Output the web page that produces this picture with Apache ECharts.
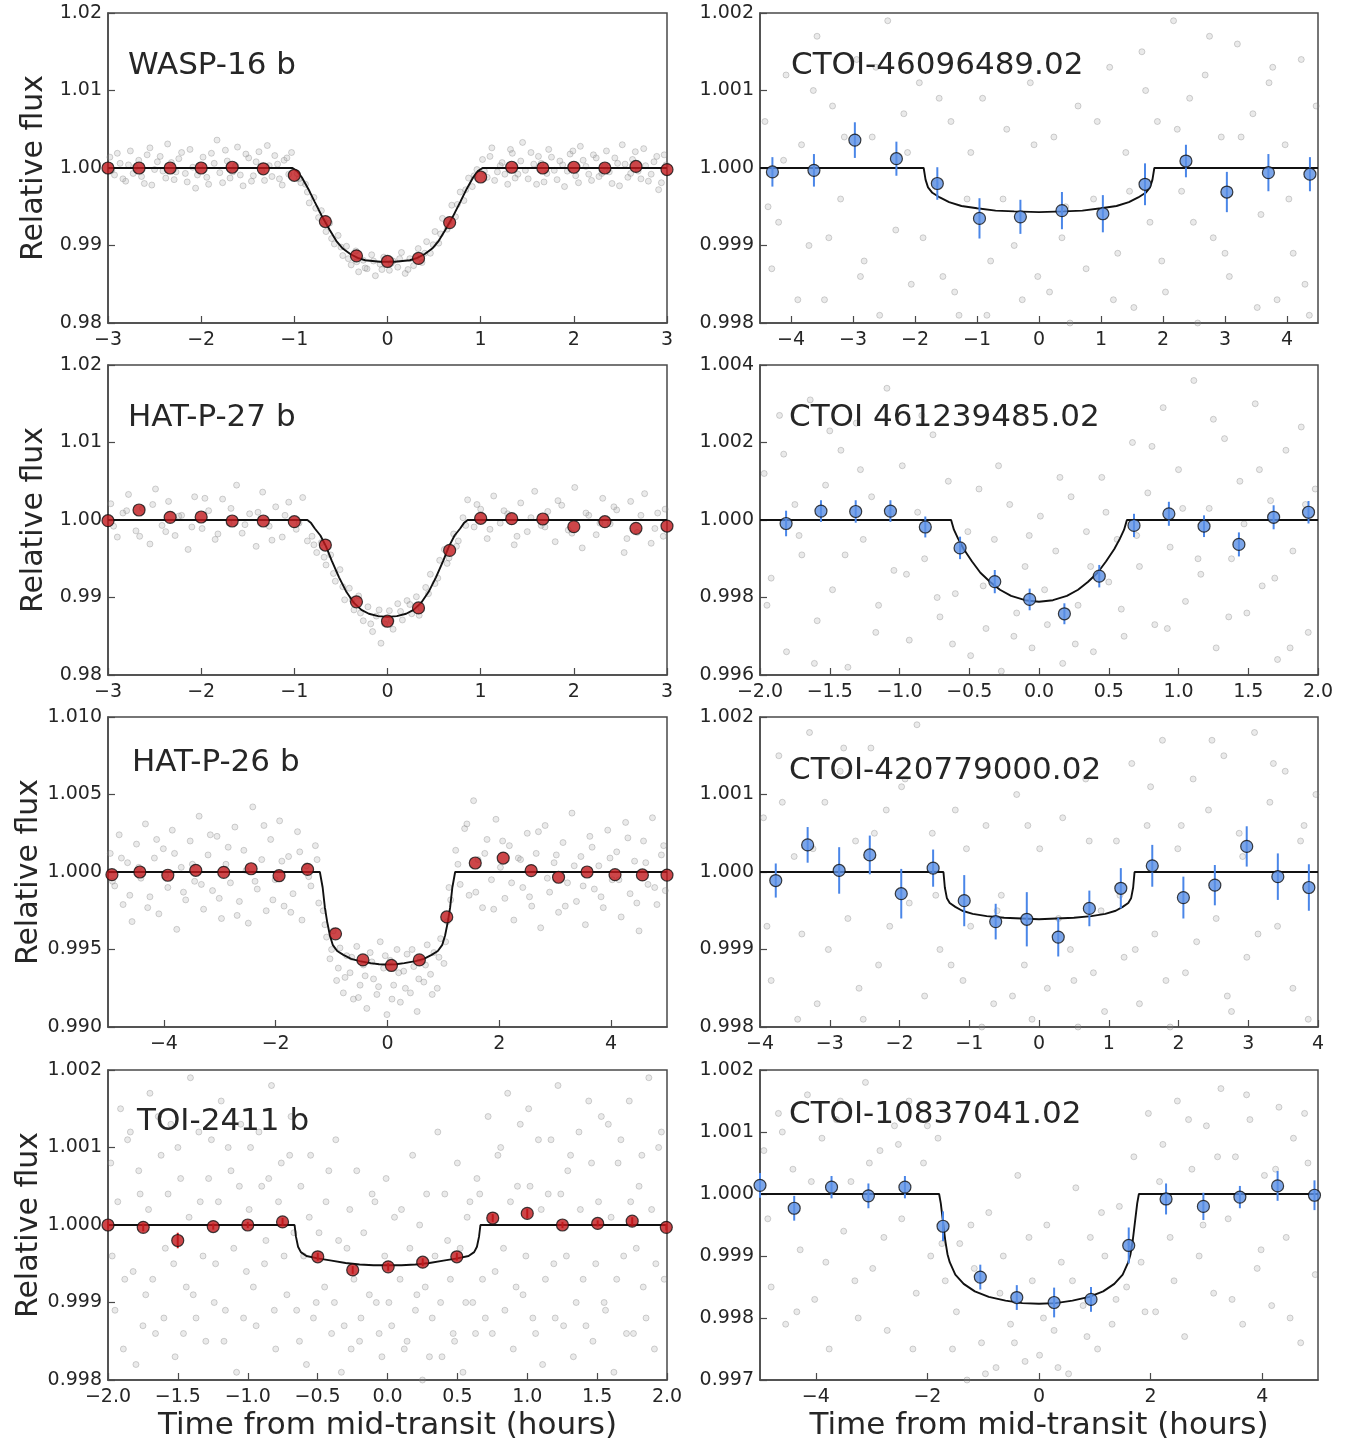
<!DOCTYPE html>
<html><head><meta charset="utf-8">
<script src="https://cdn.jsdelivr.net/npm/echarts@6/dist/echarts.min.js"></script>
<style>html,body{margin:0;padding:0;background:#fff;}#chart{width:1363px;height:1443px;}</style>
</head><body><div id="chart"></div>
<script>
// ================= DATA =================
// ---- WASP-16 b ----
const wasp16XTicks = ['−3','−2','−1','0','1','2','3'];
const wasp16YTicks = ['0.98','0.99','1.00','1.01','1.02'];
const wasp16BinX = [-3,-2.667,-2.333,-2,-1.667,-1.333,-1,-0.667,-0.333,0,0.333,0.667,1,1.333,1.667,2,2.333,2.667,3];
const wasp16BinY = [1.0000,1.0000,1.0000,1.0000,1.0001,0.9999,0.99906,0.99309,0.98867,0.98794,0.98833,0.99296,0.99884,1.0001,1.0000,1.0001,1.0000,1.0002,0.9998];
const wasp16ModelX = [-3,-1.02,-0.97,-0.92,-0.85,-0.78,-0.7,-0.62,-0.55,-0.48,-0.4,-0.32,-0.24,-0.16,-0.08,0,0.08,0.16,0.24,0.32,0.4,0.48,0.55,0.62,0.7,0.78,0.85,0.92,0.97,1.02,3];
const wasp16ModelY = [1,1,0.9996,0.9988,0.9973,0.9956,0.9937,0.9920,0.9906,0.9896,0.9889,0.9884,0.9881,0.9880,0.9879,0.9879,0.9879,0.9880,0.9881,0.9884,0.9889,0.9896,0.9906,0.9920,0.9937,0.9956,0.9973,0.9988,0.9996,1,1];
const wasp16Gray = [[-2.98,1.0014],[-2.93,0.9991],[-2.87,1.0006],[-2.81,0.9983],[-2.76,1.0022],[-2.71,1.0001],[-2.64,0.9989],[-2.58,1.0017],[-2.53,0.9978],[-2.47,1.0008],[-2.41,0.9996],[-2.36,1.0031],[-2.29,0.9985],[-2.24,1.0012],[-2.17,0.9993],[-2.12,1.0024],[-2.06,0.9974],[-2.01,1.0004],[-1.94,0.9988],[-1.89,1.0019],[-1.83,1.0036],[-1.77,0.9981],[-1.72,1.0009],[-1.66,0.9995],[-1.61,1.0027],[-1.55,0.9977],[-1.49,1.0013],[-1.44,0.9990],[-1.38,1.0021],[-1.32,0.9984],[-1.27,1.0003],[-1.21,1.0016],[-1.16,0.9986],[-1.11,1.0010],[-1.06,0.9992],[-1.03,1.0020],
[-0.97,0.9993],[-0.93,0.9981],[-0.88,0.9979],[-0.84,0.9955],[-0.79,0.9962],[-0.74,0.9936],[-0.71,0.9945],[-0.66,0.9918],[-0.62,0.9929],[-0.57,0.9902],[-0.53,0.9913],[-0.48,0.9887],[-0.44,0.9899],[-0.39,0.9875],[-0.34,0.9893],[-0.31,0.9866],[-0.26,0.9881],[-0.22,0.9870],[-0.17,0.9888],[-0.13,0.9861],[-0.08,0.9876],[-0.04,0.9885],[0.02,0.9868],[0.06,0.9880],[0.11,0.9872],[0.15,0.9891],[0.19,0.9864],[0.24,0.9883],[0.28,0.9874],[0.33,0.9896],[0.37,0.9878],[0.42,0.9905],[0.46,0.9890],[0.51,0.9918],[0.55,0.9903],[0.59,0.9935],[0.64,0.9921],[0.69,0.9952],[0.73,0.9937],[0.78,0.9969],[0.82,0.9958],[0.87,0.9987],[0.91,0.9976],[0.96,0.9998],
[1.02,1.0011],[1.07,0.9988],[1.12,1.0026],[1.18,0.9995],[1.23,1.0007],[1.29,0.9979],[1.34,1.0019],[1.4,0.9992],[1.45,1.0033],[1.51,0.9986],[1.57,1.0005],[1.62,1.0015],[1.68,0.9982],[1.73,1.0024],[1.79,0.9997],[1.85,1.0009],[1.9,0.9976],[1.96,1.0018],[2.02,0.9990],[2.07,1.0028],[2.13,1.0002],[2.19,0.9984],[2.24,1.0013],[2.3,0.9993],[2.35,1.0022],[2.41,0.9980],[2.47,1.0006],[2.52,1.0030],[2.58,0.9988],[2.63,1.0011],[2.69,0.9996],[2.75,1.0025],[2.8,0.9983],[2.86,1.0008],[2.91,0.9972],[2.97,1.0017]];
const wasp16GrayB = [[-2.96,0.9997],[-2.9,1.0019],[-2.84,0.9986],[-2.78,1.0004],[-2.73,0.9993],[-2.67,1.0010],[-2.61,0.9980],[-2.55,1.0026],[-2.5,0.9998],[-2.44,1.0015],[-2.38,0.9987],[-2.32,1.0007],[-2.27,0.9995],[-2.21,1.0020],[-2.15,0.9982],[-2.09,1.0001],[-2.04,0.9991],[-1.98,1.0014],[-1.92,0.9979],[-1.86,1.0006],[-1.8,0.9994],[-1.74,1.0023],[-1.69,0.9987],[-1.63,1.0003],[-1.58,0.9991],[-1.52,1.0018],[-1.46,0.9983],[-1.41,1.0008],[-1.35,0.9996],[-1.29,1.0029],[-1.24,0.9989],[-1.18,1.0005],[-1.13,0.9978],[-1.08,1.0013],
[-0.95,0.9986],[-0.86,0.9969],[-0.77,0.9948],[-0.68,0.9931],[-0.6,0.9909],[-0.5,0.9898],[-0.42,0.9883],[-0.33,0.9879],[-0.24,0.9871],[-0.15,0.9880],[-0.06,0.9869],[0.04,0.9877],[0.13,0.9883],[0.22,0.9869],[0.31,0.9885],[0.4,0.9890],[0.49,0.9901],[0.57,0.9915],[0.66,0.9931],[0.75,0.9953],[0.84,0.9972],[0.93,0.9990],
[1.04,0.9996],[1.1,1.0015],[1.15,0.9984],[1.21,1.0003],[1.26,0.9992],[1.32,1.0024],[1.37,0.9987],[1.43,1.0009],[1.48,0.9997],[1.54,1.0020],[1.6,0.9979],[1.65,1.0006],[1.71,0.9993],[1.76,1.0014],[1.82,0.9985],[1.88,1.0004],[1.93,0.9996],[1.99,1.0022],[2.05,0.9981],[2.1,1.0010],[2.16,0.9992],[2.21,1.0017],[2.27,0.9989],[2.33,1.0002],[2.38,0.9995],[2.44,1.0013],[2.49,0.9977],[2.55,1.0005],[2.61,0.9993],[2.66,1.0021],[2.72,0.9986],[2.77,1.0003],[2.83,0.9992],[2.89,1.0015],[2.94,0.9981],[2.99,1.0004]];

// ---- CTOI-46096489.02 ----
const ctoi460XTicks = ['−4','−3','−2','−1','0','1','2','3','4'];
const ctoi460YTicks = ['0.998','0.999','1.000','1.001','1.002'];
const ctoi460BinX = [-4.30,-3.63,-2.97,-2.30,-1.64,-0.96,-0.30,0.37,1.03,1.71,2.37,3.03,3.70,4.37];
const ctoi460BinY = [0.99995,0.99997,1.00036,1.00012,0.99980,0.99935,0.99937,0.99945,0.99941,0.99979,1.00009,0.99969,0.99994,0.99992];
const ctoi460BinErr = [0.00019,0.00021,0.00023,0.00022,0.00021,0.00026,0.00022,0.00024,0.00024,0.00027,0.00021,0.00026,0.00024,0.00022];
const ctoi460ModelX = [-4.5,-1.86,-1.83,-1.79,-1.72,-1.6,-1.45,-1.25,-1.0,-0.7,-0.4,0,0.4,0.7,1.0,1.25,1.45,1.6,1.72,1.79,1.83,1.86,4.5];
const ctoi460ModelY = [1,1,0.99985,0.99975,0.99968,0.99962,0.99956,0.99951,0.99948,0.99945,0.99944,0.99943,0.99944,0.99945,0.99948,0.99951,0.99956,0.99962,0.99968,0.99975,0.99985,1,1];
const ctoi460Gray = [[-4.42,1.0006],[-4.31,0.9987],[-4.2,0.9993],[-4.08,1.0012],[-3.95,0.9979],[-3.83,1.0003],[-3.71,0.9990],[-3.58,1.0017],[-3.46,0.9983],[-3.33,1.0008],[-3.2,0.9996],[-3.07,0.9975],[-2.94,1.0014],[-2.82,0.9988],[-2.69,1.0004],[-2.57,0.9981],[-2.44,1.0019],[-2.31,0.9992],[-2.18,1.0007],[-2.06,0.9985],[-1.93,1.0011],[-1.8,0.9978],[-1.67,0.9998],[-1.55,0.9986],[-1.42,1.0006],[-1.29,0.9981],[-1.16,0.9996],[-1.03,0.9973],[-0.91,1.0009],[-0.78,0.9988],[-0.65,0.9979],[-0.52,1.0005],[-0.4,0.9990],[-0.27,0.9983],[-0.14,1.0011],[-0.02,0.9986],[0.11,0.9974],[0.24,1.0004],[0.37,0.9991],[0.5,0.9980],[0.63,1.0008],[0.76,0.9987],[0.88,0.9996],[1.01,0.9977],[1.14,1.0013],[1.27,0.9989],[1.4,1.0002],[1.53,0.9982],[1.66,1.0015],[1.79,0.9993],[1.91,1.0006],[2.04,0.9984],[2.17,1.0019],[2.3,0.9997],[2.43,1.0009],[2.56,0.9980],[2.68,1.0012],[2.81,0.9991],[2.94,1.0004],[3.07,0.9986],[3.2,1.0016],[3.33,0.9978],[3.45,1.0007],[3.58,0.9994],[3.71,1.0011],[3.84,0.9983],[3.97,1.0003],[4.1,0.9989],[4.23,1.0014],[4.36,0.9981],[4.47,1.0008]];
const ctoi460GrayB = [[-4.37,0.9995],[-4.12,1.0001],[-3.89,0.9983],[-3.64,1.0010],[-3.39,0.9991],[-3.14,1.0004],[-2.88,0.9986],[-2.63,1.0013],[-2.38,0.9977],[-2.12,1.0002],[-1.87,0.9991],[-1.61,1.0009],[-1.36,0.9984],[-1.1,1.0002],[-0.84,0.9981],[-0.58,0.9996],[-0.33,0.9976],[-0.08,1.0003],[0.17,0.9984],[0.43,0.9995],[0.69,0.9978],[0.94,1.0006],[1.2,0.9983],[1.46,0.9997],[1.72,1.0010],[1.98,0.9988],[2.23,1.0005],[2.49,0.9993],[2.75,1.0017],[3.0,0.9989],[3.26,1.0004],[3.52,0.9982],[3.77,1.0013],[4.03,0.9996],[4.29,0.9985]];

// ---- HAT-P-27 b ----
const hatp27XTicks = ['−3','−2','−1','0','1','2','3'];
const hatp27YTicks = ['0.98','0.99','1.00','1.01','1.02'];
const hatp27BinX = [-3,-2.667,-2.333,-2,-1.667,-1.333,-1,-0.667,-0.333,0,0.333,0.667,1,1.333,1.667,2,2.333,2.667,3];
const hatp27BinY = [0.99991,1.00129,1.00034,1.00039,0.99987,0.99987,0.99978,0.99677,0.98944,0.98694,0.98866,0.99608,1.00022,1.00017,1.00013,0.99914,0.99978,0.99892,0.99922];
const hatp27ModelX = [-3,-0.86,-0.82,-0.78,-0.72,-0.66,-0.6,-0.52,-0.44,-0.36,-0.28,-0.2,-0.1,0,0.1,0.2,0.28,0.36,0.44,0.52,0.6,0.66,0.72,0.78,0.82,0.86,3];
const hatp27ModelY = [1,1,0.9996,0.9989,0.9980,0.9966,0.9948,0.9926,0.9907,0.9893,0.9884,0.9879,0.9876,0.9875,0.9876,0.9879,0.9884,0.9893,0.9907,0.9926,0.9948,0.9966,0.9980,0.9989,0.9996,1,1];
const hatp27Gray = [[-2.97,1.0021],[-2.9,0.9978],[-2.84,1.0009],[-2.78,1.0033],[-2.7,0.9986],[-2.63,1.0015],[-2.55,0.9969],[-2.49,1.0040],[-2.42,0.9993],[-2.35,1.0024],[-2.28,0.9980],[-2.21,1.0006],[-2.14,0.9962],[-2.07,1.0030],[-1.99,0.9989],[-1.92,1.0012],[-1.85,0.9975],[-1.77,1.0027],[-1.7,0.9996],[-1.62,1.0045],[-1.56,0.9983],[-1.48,1.0008],[-1.41,0.9966],[-1.34,1.0036],[-1.27,0.9992],[-1.2,1.0017],[-1.13,0.9978],[-1.06,1.0023],[-0.98,0.9988],[-0.91,1.0029],[-0.86,0.9973],
[-0.81,0.9979],[-0.76,0.9958],[-0.71,0.9971],[-0.66,0.9942],[-0.61,0.9955],[-0.56,0.9921],[-0.51,0.9936],[-0.46,0.9897],[-0.41,0.9912],[-0.36,0.9884],[-0.31,0.9902],[-0.26,0.9870],[-0.21,0.9888],[-0.16,0.9856],[-0.12,0.9876],[-0.07,0.9841],[-0.03,0.9866],[0.02,0.9883],[0.06,0.9859],[0.11,0.9892],[0.16,0.9871],[0.21,0.9896],[0.26,0.9879],[0.31,0.9901],[0.36,0.9886],[0.41,0.9913],[0.46,0.9930],[0.51,0.9918],[0.56,0.9948],[0.61,0.9962],[0.66,0.9951],[0.71,0.9982],[0.76,0.9973],[0.81,1.0003],[0.86,1.0026],
[0.93,0.9991],[1.0,1.0014],[1.07,0.9976],[1.14,1.0031],[1.21,0.9996],[1.29,1.0008],[1.36,0.9968],[1.43,1.0022],[1.5,0.9985],[1.58,1.0037],[1.65,0.9993],[1.72,1.0011],[1.8,0.9972],[1.87,1.0019],[1.94,0.9987],[2.01,1.0042],[2.09,0.9964],[2.16,1.0006],[2.24,0.9981],[2.31,1.0028],[2.39,0.9995],[2.46,1.0013],[2.54,0.9958],[2.61,1.0024],[2.68,0.9984],[2.76,1.0034],[2.83,0.9970],[2.9,1.0009],[2.96,0.9979]];
const hatp27GrayB = [[-2.94,0.9992],[-2.8,1.0012],[-2.66,0.9979],[-2.52,1.0020],[-2.38,0.9985],[-2.24,1.0005],[-2.1,0.9991],[-1.96,1.0028],[-1.82,0.9982],[-1.68,1.0015],[-1.53,0.9994],[-1.39,1.0010],[-1.24,0.9974],[-1.1,1.0006],[-0.95,0.9996],
[-0.79,0.9968],[-0.68,0.9952],[-0.58,0.9931],[-0.48,0.9914],[-0.38,0.9897],[-0.29,0.9880],[-0.18,0.9866],[-0.09,0.9884],[0.04,0.9870],[0.14,0.9882],[0.24,0.9891],[0.34,0.9877],[0.44,0.9905],[0.54,0.9925],[0.64,0.9944],[0.74,0.9966],[0.84,0.9993],
[0.96,1.0020],[1.1,0.9988],[1.25,1.0012],[1.39,0.9979],[1.54,1.0003],[1.69,0.9991],[1.83,1.0025],[1.98,0.9983],[2.13,1.0009],[2.28,0.9996],[2.43,1.0017],[2.57,0.9976],[2.72,1.0006],[2.87,0.9989],[2.98,1.0014]];

// ---- CTOI 461239485.02 ----
const ctoi461XTicks = ['−2.0','−1.5','−1.0','−0.5','0.0','0.5','1.0','1.5','2.0'];
const ctoi461YTicks = ['0.996','0.998','1.000','1.002','1.004'];
const ctoi461BinX = [-1.813,-1.563,-1.314,-1.065,-0.815,-0.566,-0.317,-0.067,0.182,0.432,0.681,0.931,1.183,1.433,1.682,1.932];
const ctoi461BinY = [0.99991,1.00023,1.00022,1.00023,0.99982,0.99928,0.99841,0.99795,0.99758,0.99855,0.99986,1.00016,0.99984,0.99937,1.00007,1.00020];
const ctoi461BinErr = [0.00033,0.00028,0.00029,0.00028,0.00027,0.00029,0.00030,0.00028,0.00027,0.00029,0.00030,0.00031,0.00028,0.00031,0.00031,0.00029];
const ctoi461ModelX = [-2,-0.63,-0.61,-0.58,-0.54,-0.48,-0.42,-0.35,-0.28,-0.2,-0.1,0,0.1,0.2,0.28,0.35,0.42,0.48,0.54,0.58,0.61,0.63,2];
const ctoi461ModelY = [1,1,0.99975,0.99952,0.99925,0.99893,0.99864,0.99840,0.99820,0.99804,0.99793,0.99789,0.99793,0.99804,0.99820,0.99840,0.99864,0.99893,0.99925,0.99952,0.99975,1,1];
const ctoi461Gray = [[-1.97,1.0012],[-1.92,0.9985],[-1.86,1.0027],[-1.81,0.9966],[-1.75,1.0004],[-1.7,0.9991],[-1.64,1.0031],[-1.59,0.9974],[-1.53,1.0009],[-1.48,0.9982],[-1.42,1.0018],[-1.37,0.9962],[-1.31,1.0025],[-1.26,0.9995],[-1.2,1.0006],[-1.15,0.9978],[-1.09,1.0034],[-1.04,0.9987],[-0.98,1.0014],[-0.93,0.9969],[-0.87,1.0002],[-0.82,0.9990],[-0.76,1.0022],[-0.71,0.9975],[-0.65,1.0010],[-0.6,0.9981],[-0.54,0.9993],[-0.49,0.9965],[-0.43,1.0008],[-0.38,0.9972],[-0.32,0.9995],[-0.27,0.9961],[-0.21,1.0004],[-0.16,0.9976],[-0.1,0.9988],[-0.05,0.9967],[0.01,1.0001],[0.06,0.9973],[0.12,0.9992],[0.17,0.9963],[0.23,1.0006],[0.28,0.9978],[0.34,0.9997],[0.39,0.9966],[0.45,1.0011],[0.5,0.9984],[0.56,0.9995],[0.61,0.9970],[0.67,1.0020],[0.72,0.9988],[0.78,1.0007],[0.83,0.9973],[0.89,1.0029],[0.94,0.9993],[1.0,1.0013],[1.05,0.9979],[1.11,1.0036],[1.16,0.9986],[1.22,1.0003],[1.27,0.9967],[1.33,1.0021],[1.38,0.9990],[1.44,1.0010],[1.49,0.9976],[1.55,1.0030],[1.6,0.9983],[1.66,1.0005],[1.71,0.9964],[1.77,1.0018],[1.82,0.9992],[1.88,1.0024],[1.93,0.9971],[1.98,1.0008]];
const ctoi461GrayB = [[-1.95,0.9978],[-1.83,1.0017],[-1.72,0.9996],[-1.61,0.9963],[-1.5,1.0023],[-1.39,0.9991],[-1.28,1.0013],[-1.17,0.9971],[-1.06,1.0002],[-0.95,0.9986],[-0.84,1.0027],[-0.73,0.9980],[-0.62,0.9968],[-0.51,0.9997],[-0.4,0.9983],[-0.29,1.0014],[-0.18,0.9970],[-0.07,0.9996],[0.04,0.9982],[0.15,1.0011],[0.26,0.9968],[0.37,0.9988],[0.48,1.0002],[0.59,0.9977],[0.7,0.9996],[0.81,1.0019],[0.92,0.9972],[1.03,1.0003],[1.14,0.9990],[1.25,1.0026],[1.36,0.9975],[1.47,0.9999],[1.58,1.0013],[1.69,0.9985],[1.8,0.9967],[1.91,1.0004]];

// ---- HAT-P-26 b ----
const hatp26XTicks = ['−4','−2','0','2','4'];
const hatp26YTicks = ['0.990','0.995','1.000','1.005','1.010'];
const hatp26BinX = [-4.93,-4.43,-3.93,-3.43,-2.93,-2.44,-1.94,-1.43,-0.93,-0.44,0.07,0.57,1.06,1.57,2.07,2.57,3.06,3.57,4.07,4.56,5.0];
const hatp26BinY = [0.99983,1.0000,0.99979,1.00011,0.99998,1.00021,0.99976,1.00017,0.99601,0.99433,0.99397,0.99433,0.99710,1.00058,1.00090,1.00009,0.99966,1.00000,0.99983,0.99981,0.99980];
const hatp26ModelX = [-5,-1.21,-1.16,-1.12,-1.08,-1.03,-0.98,-0.9,-0.79,-0.65,-0.5,-0.3,-0.15,0,0.15,0.3,0.5,0.65,0.79,0.9,0.98,1.03,1.08,1.12,1.16,1.21,5];
const hatp26ModelY = [1,1,0.9990,0.9977,0.9968,0.9959,0.9953,0.9949,0.99465,0.9944,0.99425,0.99412,0.99405,0.99403,0.99405,0.99412,0.99425,0.9944,0.99465,0.9949,0.9953,0.9959,0.9968,0.9977,0.9990,1,1];
const hatp26Gray = [[-4.96,1.0012],[-4.88,0.9991],[-4.8,1.0024],[-4.73,0.9979],[-4.65,1.0006],[-4.57,0.9968],[-4.49,1.0018],[-4.41,0.9996],[-4.33,1.0031],[-4.25,0.9984],[-4.17,1.0009],[-4.09,0.9973],[-4.01,1.0015],[-3.93,0.9990],[-3.85,1.0027],[-3.77,0.9963],[-3.69,1.0003],[-3.61,0.9982],[-3.53,1.0020],[-3.45,0.9994],[-3.37,1.0036],[-3.29,0.9976],[-3.21,1.0011],[-3.13,0.9988],[-3.05,1.0023],[-2.97,0.9970],[-2.89,1.0005],[-2.81,0.9993],[-2.73,1.0029],[-2.65,0.9981],[-2.57,1.0014],[-2.49,0.9967],[-2.41,1.0042],[-2.33,0.9989],[-2.25,1.0008],[-2.17,0.9975],[-2.09,1.0021],[-2.01,0.9995],[-1.93,1.0033],[-1.85,0.9978],[-1.77,1.0010],[-1.69,0.9986],[-1.61,1.0026],[-1.53,0.9969],[-1.45,1.0004],[-1.37,0.9991],[-1.29,1.0017],[-1.23,0.9980],
[-1.15,0.9975],[-1.09,0.9958],[-1.03,0.9944],[-0.97,0.9962],[-0.91,0.9930],[-0.85,0.9951],[-0.79,0.9922],[-0.73,0.9946],[-0.67,0.9935],[-0.61,0.9918],[-0.55,0.9952],[-0.49,0.9927],[-0.43,0.9940],[-0.37,0.9912],[-0.31,0.9948],[-0.25,0.9931],[-0.19,0.9921],[-0.13,0.9955],[-0.07,0.9938],[-0.01,0.9908],[0.05,0.9943],[0.11,0.9927],[0.17,0.9950],[0.23,0.9916],[0.29,0.9936],[0.35,0.9947],[0.41,0.9922],[0.47,0.9939],[0.53,0.9910],[0.59,0.9944],[0.65,0.9929],[0.71,0.9953],[0.77,0.9934],[0.83,0.9948],[0.89,0.9925],[0.95,0.9957],[1.01,0.9941],[1.07,0.9968],[1.13,0.9982],
[1.22,1.0014],[1.3,0.9992],[1.38,1.0028],[1.46,0.9985],[1.54,1.0046],[1.62,1.0008],[1.7,0.9977],[1.78,1.0021],[1.86,0.9995],[1.94,1.0034],[2.02,1.0003],[2.1,0.9983],[2.18,1.0017],[2.26,0.9969],[2.34,1.0009],[2.42,0.9990],[2.5,1.0025],[2.58,0.9978],[2.66,1.0012],[2.74,0.9964],[2.82,1.0030],[2.9,0.9987],[2.98,1.0006],[3.06,0.9974],[3.14,1.0019],[3.22,0.9993],[3.3,1.0038],[3.38,0.9981],[3.46,1.0010],[3.54,0.9966],[3.62,1.0023],[3.7,0.9989],[3.78,1.0004],[3.86,0.9977],[3.94,1.0027],[4.02,0.9995],[4.1,1.0013],[4.18,0.9971],[4.26,1.0032],[4.34,0.9986],[4.42,1.0007],[4.5,0.9962],[4.58,1.0020],[4.66,0.9992],[4.74,1.0035],[4.82,0.9979],[4.9,1.0011],[4.97,0.9988]];
const hatp26GrayB = [[-4.92,0.9994],[-4.76,1.0009],[-4.61,0.9985],[-4.45,1.0003],[-4.29,0.9977],[-4.13,1.0021],[-3.97,0.9998],[-3.81,1.0012],[-3.65,0.9987],[-3.49,1.0005],[-3.33,0.9992],[-3.17,1.0024],[-3.01,0.9983],[-2.85,1.0016],[-2.69,0.9972],[-2.53,1.0001],[-2.37,0.9994],[-2.21,1.0030],[-2.05,0.9982],[-1.89,1.0007],[-1.73,0.9974],[-1.57,1.0013],[-1.41,0.9997],[-1.26,1.0008],
[-1.12,0.9966],[-1.0,0.9950],[-0.88,0.9938],[-0.76,0.9932],[-0.64,0.9945],[-0.52,0.9919],[-0.4,0.9933],[-0.28,0.9942],[-0.16,0.9926],[-0.04,0.9946],[0.08,0.9918],[0.2,0.9935],[0.32,0.9925],[0.44,0.9950],[0.56,0.9931],[0.68,0.9940],[0.8,0.9921],[0.92,0.9945],[1.04,0.9955],[1.1,0.9990],
[1.26,1.0005],[1.42,1.0031],[1.58,0.9987],[1.74,1.0012],[1.9,0.9976],[2.06,1.0020],[2.22,0.9993],[2.38,1.0008],[2.54,0.9984],[2.7,1.0026],[2.86,0.9996],[3.02,1.0011],[3.18,0.9978],[3.34,1.0004],[3.5,0.9991],[3.66,1.0016],[3.82,0.9984],[3.98,1.0009],[4.14,0.9995],[4.3,1.0022],[4.46,0.9980],[4.62,1.0006],[4.78,0.9990],[4.94,1.0017]];

// ---- CTOI-420779000.02 ----
const ctoi420XTicks = ['−4','−3','−2','−1','0','1','2','3','4'];
const ctoi420YTicks = ['0.998','0.999','1.000','1.001','1.002'];
const ctoi420BinX = [-3.774,-3.317,-2.865,-2.426,-1.975,-1.518,-1.072,-0.621,-0.175,0.276,0.722,1.173,1.624,2.070,2.521,2.978,3.424,3.869];
const ctoi420BinY = [0.99989,1.00035,1.00002,1.00022,0.99972,1.00005,0.99963,0.99936,0.99939,0.99916,0.99953,0.99979,1.00008,0.99967,0.99983,1.00033,0.99994,0.99980];
const ctoi420BinErr = [0.00022,0.00023,0.00030,0.00025,0.00032,0.00024,0.00033,0.00023,0.00035,0.00025,0.00023,0.00026,0.00027,0.00027,0.00026,0.00026,0.00030,0.00030];
const ctoi420ModelX = [-4,-1.37,-1.35,-1.32,-1.28,-1.2,-1.1,-0.95,-0.75,-0.5,-0.25,0,0.25,0.5,0.75,0.95,1.1,1.2,1.28,1.32,1.35,1.37,4];
const ctoi420ModelY = [1,1,0.9998,0.99966,0.9996,0.99955,0.9995,0.99946,0.99943,0.99941,0.9994,0.99939,0.9994,0.99941,0.99943,0.99946,0.9995,0.99955,0.9996,0.99966,0.9998,1,1];
const ctoi420Gray = [[-3.95,1.0007],[-3.84,0.9986],[-3.73,1.0015],[-3.62,0.9979],[-3.51,1.0002],[-3.4,0.9992],[-3.29,1.0018],[-3.18,0.9983],[-3.07,1.0009],[-2.96,0.9975],[-2.85,1.0013],[-2.74,0.9994],[-2.63,1.0004],[-2.52,0.9981],[-2.41,1.0016],[-2.3,0.9988],[-2.19,1.0008],[-2.08,0.9977],[-1.97,1.0011],[-1.86,0.9996],[-1.75,1.0019],[-1.64,0.9984],[-1.53,1.0005],[-1.42,0.9990],[-1.31,0.9979],[-1.2,1.0008],[-1.09,0.9986],[-0.98,0.9993],[-0.87,0.9974],[-0.76,1.0006],[-0.65,0.9983],[-0.54,0.9997],[-0.43,0.9977],[-0.32,1.0010],[-0.21,0.9988],[-0.1,0.9981],[0.01,1.0003],[0.12,0.9985],[0.23,0.9976],[0.34,1.0007],[0.45,0.9990],[0.56,0.9980],[0.67,1.0012],[0.78,0.9987],[0.89,0.9995],[1.0,0.9978],[1.11,1.0004],[1.22,0.9989],[1.33,1.0014],[1.44,0.9983],[1.55,1.0006],[1.66,0.9992],[1.77,1.0017],[1.88,0.9980],[1.99,1.0003],[2.1,0.9987],[2.21,1.0012],[2.32,0.9975],[2.43,1.0008],[2.54,0.9994],[2.65,1.0015],[2.76,0.9982],[2.87,1.0005],[2.98,0.9989],[3.09,1.0018],[3.2,0.9977],[3.31,1.0009],[3.42,0.9993],[3.53,1.0013],[3.64,0.9985],[3.75,1.0004],[3.86,0.9981],[3.97,1.0010]];
const ctoi420GrayB = [[-3.9,0.9993],[-3.68,1.0009],[-3.46,0.9981],[-3.24,1.0003],[-3.02,0.9990],[-2.8,1.0016],[-2.58,0.9985],[-2.36,1.0005],[-2.14,0.9993],[-1.92,1.0012],[-1.7,0.9979],[-1.48,0.9997],[-1.26,0.9988],[-1.04,1.0003],[-0.82,0.9980],[-0.6,0.9995],[-0.38,0.9984],[-0.16,1.0006],[0.06,0.9979],[0.28,0.9994],[0.5,0.9986],[0.72,1.0004],[0.94,0.9982],[1.16,0.9997],[1.38,0.9990],[1.6,1.0011],[1.82,0.9986],[2.04,1.0006],[2.26,0.9991],[2.48,1.0017],[2.7,0.9984],[2.92,1.0002],[3.14,0.9992],[3.36,1.0014],[3.58,0.9978],[3.8,1.0006]];

// ---- TOI-2411 b ----
const toi2411XTicks = ['−2.0','−1.5','−1.0','−0.5','0.0','0.5','1.0','1.5','2.0'];
const toi2411YTicks = ['0.998','0.999','1.000','1.001','1.002'];
const toi2411BinX = [-2.0,-1.748,-1.501,-1.247,-1.0,-0.751,-0.499,-0.249,0.005,0.252,0.496,0.753,1.0,1.252,1.504,1.751,1.995];
const toi2411BinY = [1.0000,0.99997,0.99980,0.99998,1.0000,1.00004,0.99959,0.99942,0.99946,0.99952,0.99959,1.00009,1.00015,1.0000,1.00002,1.00005,0.99997];
const toi2411BinErr = [0.00004,0.00005,0.00010,0.00004,0.00004,0.00005,0.00005,0.00005,0.00005,0.00005,0.00005,0.00005,0.00006,0.00004,0.00004,0.00005,0.00004];
const toi2411ModelX = [-2,-0.665,-0.655,-0.64,-0.62,-0.58,-0.5,-0.4,-0.3,-0.2,-0.1,0,0.1,0.2,0.3,0.4,0.5,0.58,0.62,0.64,0.655,0.665,2];
const toi2411ModelY = [1,1,0.99985,0.99972,0.99965,0.9996,0.99957,0.99954,0.99951,0.99949,0.99948,0.99948,0.99948,0.99949,0.99951,0.99954,0.99957,0.9996,0.99965,0.99972,0.99985,1,1];
const toi2411Gray = [[-1.98,1.0008],[-1.95,0.9989],[-1.91,1.0015],[-1.88,0.9993],[-1.84,1.0012],[-1.8,0.9982],[-1.77,1.0004],[-1.73,0.9991],[-1.7,1.0017],[-1.66,0.9986],[-1.62,1.0009],[-1.59,0.9997],[-1.55,1.0013],[-1.52,0.9983],[-1.48,1.0006],[-1.44,0.9992],[-1.41,1.0019],[-1.37,0.9988],[-1.34,1.0003],[-1.3,0.9985],[-1.26,1.0011],[-1.23,0.9995],[-1.19,1.0016],[-1.16,0.9989],[-1.12,1.0007],[-1.08,0.9981],[-1.05,1.0013],[-1.01,0.9994],[-0.98,1.0010],[-0.94,0.9987],[-0.9,1.0005],[-0.87,0.9998],[-0.83,1.0018],[-0.8,0.9984],[-0.76,1.0008],[-0.72,0.9991],[-0.69,1.0014],
[-0.65,0.9989],[-0.62,1.0005],[-0.58,0.9982],[-0.55,1.0009],[-0.51,0.9990],[-0.47,0.9978],[-0.44,1.0003],[-0.4,0.9986],[-0.37,1.0011],[-0.33,0.9981],[-0.29,0.9997],[-0.26,0.9984],[-0.22,1.0007],[-0.19,0.9988],[-0.15,0.9979],[-0.11,1.0004],[-0.08,0.9990],[-0.04,0.9983],[-0.01,1.0006],[0.03,0.9987],[0.07,0.9977],[0.1,1.0002],[0.14,0.9985],[0.18,1.0009],[0.21,0.9991],[0.25,0.9980],[0.28,1.0004],[0.32,0.9988],[0.36,1.0012],[0.39,0.9983],[0.43,0.9998],[0.47,0.9986],[0.5,1.0008],[0.54,0.9981],[0.57,1.0001],[0.61,0.9990],[0.64,1.0006],
[0.68,0.9993],[0.72,1.0014],[0.75,0.9986],[0.79,1.0009],[0.83,0.9997],[0.86,1.0017],[0.9,0.9984],[0.93,1.0005],[0.97,0.9991],[1.01,1.0015],[1.04,0.9988],[1.08,1.0011],[1.11,0.9982],[1.15,1.0004],[1.19,0.9995],[1.22,1.0018],[1.26,0.9987],[1.29,1.0007],[1.33,0.9983],[1.37,1.0012],[1.4,0.9993],[1.44,1.0016],[1.47,0.9985],[1.51,1.0003],[1.55,0.9990],[1.58,1.0013],[1.62,0.9981],[1.65,1.0008],[1.69,0.9996],[1.73,1.0016],[1.76,0.9986],[1.8,1.0005],[1.83,0.9992],[1.87,1.0019],[1.91,0.9984],[1.94,1.0010],[1.98,0.9993]];
const toi2411GrayB = [[-1.97,0.9996],[-1.93,1.0003],[-1.89,0.9984],[-1.86,1.0011],[-1.82,0.9994],[-1.78,1.0007],[-1.75,0.9987],[-1.71,1.0002],[-1.68,0.9993],[-1.64,1.0014],[-1.6,0.9988],[-1.57,1.0004],[-1.53,0.9995],[-1.5,1.0010],[-1.46,0.9986],[-1.42,1.0001],[-1.39,0.9991],[-1.35,1.0012],[-1.32,0.9996],[-1.28,1.0006],[-1.24,0.9990],[-1.21,1.0003],[-1.17,0.9985],[-1.14,1.0010],[-1.1,0.9997],[-1.06,1.0005],[-1.03,0.9988],[-0.99,1.0002],[-0.96,0.9992],[-0.92,1.0012],[-0.88,0.9995],[-0.85,1.0006],[-0.81,0.9989],[-0.78,1.0003],[-0.74,0.9996],[-0.7,1.0009],
[-0.67,0.9999],[-0.63,0.9985],[-0.6,0.9996],[-0.56,1.0001],[-0.53,0.9988],[-0.49,0.9999],[-0.45,0.9992],[-0.42,1.0007],[-0.38,0.9990],[-0.35,0.9998],[-0.31,0.9987],[-0.27,1.0002],[-0.24,0.9993],[-0.2,0.9985],[-0.17,0.9999],[-0.13,0.9991],[-0.09,1.0003],[-0.06,0.9986],[-0.02,0.9996],[0.01,0.9990],[0.05,1.0001],[0.09,0.9993],[0.12,0.9984],[0.16,0.9997],[0.2,0.9989],[0.23,1.0000],[0.27,0.9992],[0.3,0.9983],[0.34,0.9996],[0.38,0.9990],[0.41,1.0004],[0.45,0.9993],[0.48,0.9985],[0.52,0.9997],[0.56,0.9990],[0.59,1.0003],[0.63,0.9986],
[0.66,1.0004],[0.7,0.9988],[0.74,1.0001],[0.77,0.9994],[0.81,1.0010],[0.84,0.9989],[0.88,1.0003],[0.92,0.9992],[0.95,1.0013],[0.99,0.9996],[1.02,1.0005],[1.06,0.9986],[1.1,1.0002],[1.13,0.9993],[1.17,1.0011],[1.2,0.9988],[1.24,1.0004],[1.28,0.9996],[1.31,1.0009],[1.35,0.9990],[1.38,1.0002],[1.42,0.9987],[1.46,1.0008],[1.49,0.9995],[1.53,1.0014],[1.56,0.9989],[1.6,1.0001],[1.64,0.9993],[1.67,1.0011],[1.71,0.9986],[1.74,1.0003],[1.78,0.9997],[1.82,1.0009],[1.85,0.9988],[1.89,1.0002],[1.92,0.9995],[1.96,1.0012]];

// ---- CTOI-10837041.02 ----
const ctoi108XTicks = ['−4','−2','0','2','4'];
const ctoi108YTicks = ['0.997','0.998','0.999','1.000','1.001','1.002'];
const ctoi108BinX = [-5.0,-4.387,-3.718,-3.057,-2.403,-1.720,-1.052,-0.398,0.271,0.932,1.608,2.277,2.946,3.600,4.276,4.937];
const ctoi108BinY = [1.00014,0.99977,1.00011,0.99997,1.00011,0.99948,0.99866,0.99833,0.99825,0.99830,0.99917,0.99992,0.99980,0.99995,1.00013,0.99998];
const ctoi108BinErr = [0.00020,0.00020,0.00018,0.00020,0.00018,0.00024,0.00020,0.00020,0.00024,0.00020,0.00029,0.00025,0.00022,0.00018,0.00024,0.00024];
const ctoi108ModelX = [-5,-1.79,-1.76,-1.72,-1.68,-1.64,-1.6,-1.5,-1.35,-1.15,-0.9,-0.6,-0.3,0,0.3,0.6,0.9,1.15,1.35,1.5,1.6,1.64,1.68,1.72,1.76,1.79,5];
const ctoi108ModelY = [1,1,0.99985,0.99955,0.99925,0.99903,0.9989,0.9987,0.99855,0.99843,0.99834,0.99828,0.99824,0.99823,0.99824,0.99828,0.99834,0.99843,0.99855,0.9987,0.9989,0.99903,0.99925,0.99955,0.99985,1,1];
const ctoi108Gray = [[-4.93,1.0007],[-4.8,0.9985],[-4.67,1.0013],[-4.54,0.9979],[-4.41,1.0004],[-4.28,0.9991],[-4.15,1.0016],[-4.02,0.9983],[-3.89,1.0009],[-3.76,0.9975],[-3.63,1.0012],[-3.5,0.9994],[-3.37,1.0002],[-3.24,0.9980],[-3.11,1.0018],[-2.98,0.9988],[-2.85,1.0007],[-2.72,0.9978],[-2.59,1.0011],[-2.46,0.9996],[-2.33,1.0015],[-2.2,0.9984],[-2.07,1.0005],[-1.94,0.9990],[-1.81,1.0009],[-1.68,0.9986],[-1.55,0.9975],[-1.42,0.9992],[-1.29,0.9970],[-1.16,0.9988],[-1.03,0.9976],[-0.9,0.9997],[-0.77,0.9972],[-0.64,0.9990],[-0.51,0.9979],[-0.38,1.0003],[-0.25,0.9973],[-0.12,0.9986],[0.01,0.9974],[0.14,0.9995],[0.27,0.9978],[0.4,0.9989],[0.53,0.9971],[0.66,1.0001],[0.79,0.9982],[0.92,0.9993],[1.05,0.9975],[1.18,0.9990],[1.31,0.9979],[1.44,0.9998],[1.57,0.9985],[1.7,1.0006],[1.83,0.9989],[1.96,1.0013],[2.09,0.9981],[2.22,1.0008],[2.35,0.9993],[2.48,1.0015],[2.61,0.9977],[2.74,1.0004],[2.87,0.9990],[3.0,1.0011],[3.13,0.9984],[3.26,1.0017],[3.39,0.9996],[3.52,1.0006],[3.65,0.9979],[3.78,1.0012],[3.91,0.9988],[4.04,1.0003],[4.17,0.9982],[4.3,1.0014],[4.43,0.9993],[4.56,1.0009],[4.69,0.9976],[4.82,1.0005],[4.95,0.9987]];
const ctoi108GrayB = [[-4.86,0.9996],[-4.6,1.0010],[-4.34,0.9981],[-4.08,1.0002],[-3.82,0.9989],[-3.56,1.0015],[-3.3,0.9986],[-3.04,1.0005],[-2.78,0.9993],[-2.52,1.0008],[-2.26,0.9975],[-2.0,1.0011],[-1.74,0.9992],[-1.48,0.9981],[-1.22,0.9995],[-0.96,0.9971],[-0.7,0.9984],[-0.44,0.9976],[-0.18,0.9993],[0.08,0.9980],[0.34,0.9972],[0.6,0.9986],[0.86,0.9977],[1.12,0.9997],[1.38,0.9983],[1.64,0.9992],[1.9,0.9981],[2.16,1.0002],[2.42,0.9986],[2.68,1.0012],[2.94,0.9995],[3.2,1.0006],[3.46,0.9983],[3.72,1.0016],[3.98,0.9991],[4.24,1.0004],[4.5,0.9980],[4.76,1.0013]];

// ================= LAYOUT / STYLE =================
const FONT = "'DejaVu Sans', 'Liberation Sans', sans-serif";
const TXT = '#262626';
const FRAME = '#4a4a4a';
const RED = '#c0181c';
const BLUE = '#5a8fe4';
const BLUE_ERR = '#4a86e8';

const panels = [
  {title:'WASP-16 b', tx:128, ty:66, g:{left:108,top:13,width:559,height:310}, xr:[-3,3], xt:wasp16XTicks, yt:wasp16YTicks, gray:wasp16Gray.concat(wasp16GrayB), bx:wasp16BinX, by:wasp16BinY, be:null, mx:wasp16ModelX, my:wasp16ModelY, red:true, yName:true, xName:false},
  {title:'CTOI-46096489.02', tx:791, ty:66, g:{left:760,top:13,width:558,height:310}, xr:[-4.5,4.5], xt:ctoi460XTicks, yt:ctoi460YTicks, gray:ctoi460Gray.concat(ctoi460GrayB), bx:ctoi460BinX, by:ctoi460BinY, be:ctoi460BinErr, mx:ctoi460ModelX, my:ctoi460ModelY, red:false, yName:false, xName:false},
  {title:'HAT-P-27 b', tx:128, ty:418, g:{left:108,top:365,width:559,height:310}, xr:[-3,3], xt:hatp27XTicks, yt:hatp27YTicks, gray:hatp27Gray.concat(hatp27GrayB), bx:hatp27BinX, by:hatp27BinY, be:null, mx:hatp27ModelX, my:hatp27ModelY, red:true, yName:true, xName:false},
  {title:'CTOI 461239485.02', tx:789, ty:418, g:{left:760,top:365,width:558,height:310}, xr:[-2,2], xt:ctoi461XTicks, yt:ctoi461YTicks, gray:ctoi461Gray.concat(ctoi461GrayB), bx:ctoi461BinX, by:ctoi461BinY, be:ctoi461BinErr, mx:ctoi461ModelX, my:ctoi461ModelY, red:false, yName:false, xName:false},
  {title:'HAT-P-26 b', tx:132, ty:763, g:{left:108,top:717,width:559,height:310}, xr:[-5,5], xt:hatp26XTicks, yt:hatp26YTicks, gray:hatp26Gray.concat(hatp26GrayB), bx:hatp26BinX, by:hatp26BinY, be:null, mx:hatp26ModelX, my:hatp26ModelY, red:true, yName:true, xName:false},
  {title:'CTOI-420779000.02', tx:789, ty:771, g:{left:760,top:717,width:558,height:310}, xr:[-4,4], xt:ctoi420XTicks, yt:ctoi420YTicks, gray:ctoi420Gray.concat(ctoi420GrayB), bx:ctoi420BinX, by:ctoi420BinY, be:ctoi420BinErr, mx:ctoi420ModelX, my:ctoi420ModelY, red:false, yName:false, xName:false},
  {title:'TOI-2411 b', tx:137, ty:1122, g:{left:108,top:1070,width:559,height:310}, xr:[-2,2], xt:toi2411XTicks, yt:toi2411YTicks, gray:toi2411Gray.concat(toi2411GrayB), bx:toi2411BinX, by:toi2411BinY, be:toi2411BinErr, mx:toi2411ModelX, my:toi2411ModelY, red:true, yName:true, xName:true},
  {title:'CTOI-10837041.02', tx:789, ty:1115, g:{left:760,top:1070,width:558,height:310}, xr:[-5,5], xt:ctoi108XTicks, yt:ctoi108YTicks, gray:ctoi108Gray.concat(ctoi108GrayB), bx:ctoi108BinX, by:ctoi108BinY, be:ctoi108BinErr, mx:ctoi108ModelX, my:ctoi108ModelY, red:false, yName:false, xName:true}
];

const num = s => parseFloat(s.replace('−','-'));
function lookup(labels){
  const vals = labels.map(num);
  return v => { let bi=0, bd=Infinity; vals.forEach((t,i)=>{const d=Math.abs(t-v); if(d<bd){bd=d;bi=i;}}); return labels[bi]; };
}

const grid=[], xAxis=[], yAxis=[], series=[], graphic=[];
panels.forEach((p,i)=>{
  grid.push(Object.assign({show:true, borderColor:FRAME, borderWidth:1.5, backgroundColor:'#fff', containLabel:false}, p.g));
  const xv = p.xt.map(num), yv = p.yt.map(num);
  xAxis.push({
    type:'value', gridIndex:i, min:p.xr[0], max:p.xr[1],
    axisLine:{show:true, onZero:false, lineStyle:{color:FRAME, width:1.5}},
    axisTick:{show:true, inside:true, length:7, customValues:xv, lineStyle:{color:FRAME, width:1.2}},
    axisLabel:{show:true, customValues:xv, formatter:lookup(p.xt), color:TXT, fontSize:19, fontFamily:FONT, margin:8},
    splitLine:{show:false},
    name: p.xName ? 'Time from mid-transit (hours)' : '',
    nameLocation:'middle', nameGap:30,
    nameTextStyle:{fontSize:31, fontFamily:FONT, color:TXT}
  });
  yAxis.push({
    type:'value', gridIndex:i, min:yv[0], max:yv[yv.length-1],
    axisLine:{show:true, onZero:false, lineStyle:{color:FRAME, width:1.5}},
    axisTick:{show:true, inside:true, length:7, customValues:yv, lineStyle:{color:FRAME, width:1.2}},
    axisLabel:{show:true, customValues:yv, formatter:lookup(p.yt), color:TXT, fontSize:19, fontFamily:FONT, margin:6},
    splitLine:{show:false},
    name: p.yName ? 'Relative flux' : '',
    nameLocation:'middle', nameGap:59,
    nameTextStyle:{fontSize:30, fontFamily:FONT, color:TXT}
  });
  series.push({
    type:'scatter', xAxisIndex:i, yAxisIndex:i, data:p.gray, symbol:'circle', symbolSize:6, z:1, silent:true,
    itemStyle:{color:'rgba(160,160,160,0.28)', borderColor:'rgba(115,115,115,0.38)', borderWidth:1}
  });
  series.push({
    type:'line', xAxisIndex:i, yAxisIndex:i, data:p.mx.map((x,k)=>[x,p.my[k]]), showSymbol:false, symbol:'none', z:2, silent:true, clip:true,
    lineStyle:{color:'#111', width:1.9}
  });
  if(p.be){
    const ecol = p.red ? RED : BLUE_ERR;
    series.push({
      type:'custom', xAxisIndex:i, yAxisIndex:i, z:3, silent:true,
      data:p.bx.map((x,k)=>[x,p.by[k],p.be[k]]),
      encode:{x:0, y:1},
      renderItem:(params, api)=>{
        const x=api.value(0), y=api.value(1), e=api.value(2);
        const a=api.coord([x,y-e]), b=api.coord([x,y+e]);
        return {type:'line', shape:{x1:a[0],y1:a[1],x2:b[0],y2:b[1]}, style:{stroke:ecol, lineWidth:2}};
      }
    });
  }
  series.push({
    type:'scatter', xAxisIndex:i, yAxisIndex:i, data:p.bx.map((x,k)=>[x,p.by[k]]), symbol:'circle', symbolSize:12, z:4, silent:true,
    itemStyle:{color: p.red ? RED : BLUE, borderColor:'#111', borderWidth:1.2}
  });
  graphic.push({type:'text', x:p.tx, y:p.ty, z:100, silent:true,
    style:{text:p.title, fontSize:31, fontFamily:FONT, fill:TXT, align:'left', verticalAlign:'middle'}});
});

const chart = echarts.init(document.getElementById('chart'), null, {renderer:'canvas'});
chart.setOption({animation:false, backgroundColor:'#fff', grid, xAxis, yAxis, series, graphic});
</script></body></html>
